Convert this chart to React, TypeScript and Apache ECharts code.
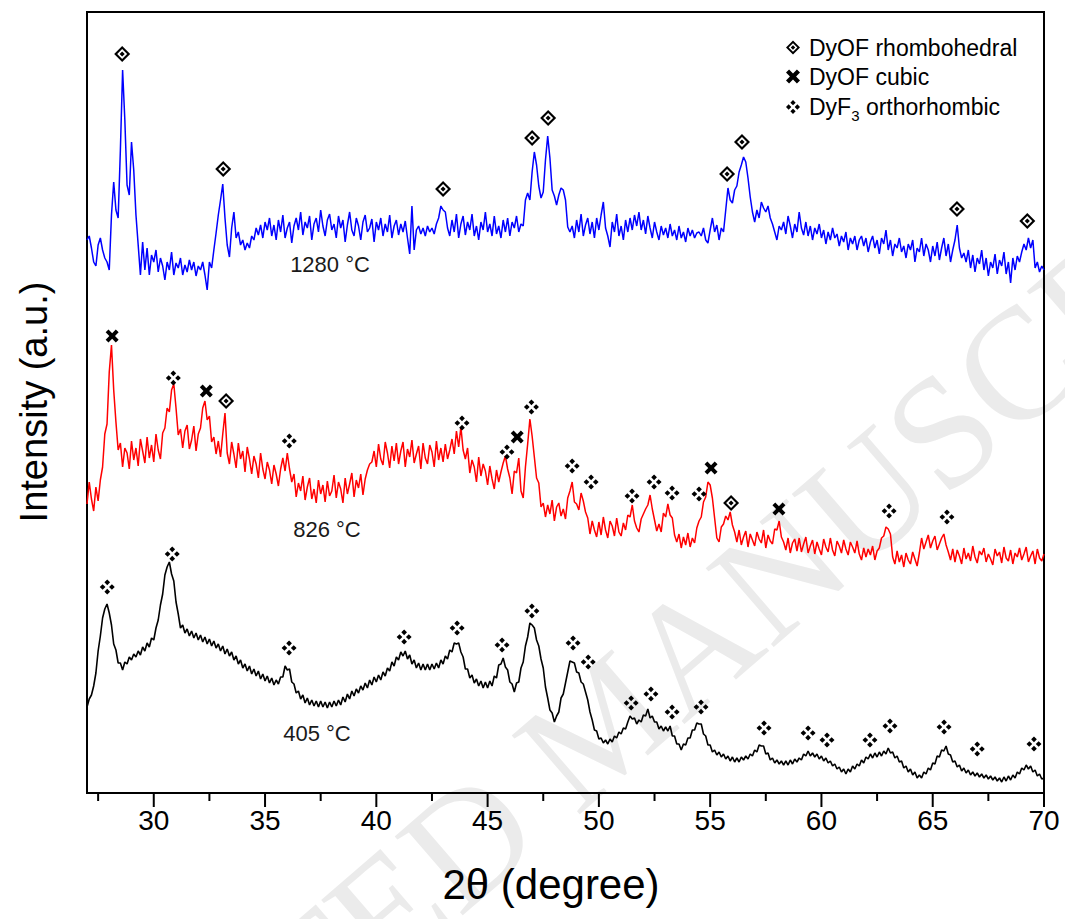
import React, { useEffect, useRef } from 'react';
import * as echarts from 'echarts';

// Diffractograms are sampled on a uniform 2θ grid.
const TWO_THETA_START = 27;
const TWO_THETA_STEP = 0.1;

// Intensity (a.u.) of the sample annealed at 1280 °C, 27.0° … 70.0°
const intensity1280 = [
  560, 564, 552, 538, 534, 555, 562, 550, 542, 538,
  530, 585, 618, 590, 582, 650, 730, 680, 615, 605,
  658, 630, 585, 555, 525, 558, 530, 552, 525, 545,
  538, 550, 528, 542, 534, 520, 538, 530, 548, 525,
  537, 532, 542, 525, 535, 528, 540, 530, 538, 524,
  534, 530, 538, 525, 510, 538, 532, 550, 567, 585,
  600, 616, 582, 555, 543, 572, 588, 562, 568, 555,
  560, 550, 557, 552, 564, 560, 572, 565, 575, 562,
  578, 570, 582, 564, 575, 560, 580, 568, 585, 562,
  572, 578, 557, 574, 582, 570, 588, 565, 578, 572,
  584, 560, 576, 582, 568, 590, 574, 564, 580, 586,
  570, 576, 562, 584, 572, 580, 558, 575, 588, 570,
  564, 582, 574, 560, 578, 585, 568, 572, 581, 558,
  578, 570, 582, 564, 576, 568, 585, 562, 574, 580,
  565, 576, 568, 579, 562, 546, 594, 550, 570, 574,
  566, 572, 564, 574, 568, 572, 566, 576, 582, 594,
  590, 588, 572, 564, 580, 568, 586, 562, 576, 584,
  565, 578, 570, 586, 564, 574, 560, 578, 570, 588,
  568, 576, 564, 584, 566, 574, 562, 580, 568, 582,
  564, 578, 572, 584, 568, 576, 574, 600, 607, 600,
  628, 648, 635, 614, 602, 608, 640, 664, 642, 610,
  604, 595, 605, 612, 610, 600, 573, 568, 574, 562,
  580, 568, 586, 564, 575, 582, 566, 578, 562, 582,
  570, 585, 598, 572, 564, 553, 578, 568, 586, 564,
  574, 560, 580, 568, 582, 570, 585, 574, 588, 570,
  580, 566, 584, 572, 562, 578, 568, 560, 574, 565,
  572, 562, 576, 564, 570, 560, 574, 562, 568, 558,
  572, 564, 570, 562, 567, 568, 564, 572, 560, 557,
  570, 582, 568, 575, 560, 572, 568, 590, 612, 600,
  597, 610, 614, 628, 635, 643, 638, 622, 603, 588,
  578, 590, 582, 598, 592, 588, 594, 582, 576, 568,
  560, 574, 570, 578, 566, 584, 574, 562, 576, 568,
  588, 572, 565, 578, 564, 574, 560, 572, 566, 576,
  562, 570, 556, 568, 560, 572, 562, 566, 554, 564,
  558, 568, 550, 562, 556, 564, 550, 560, 564, 554,
  562, 548, 558, 564, 552, 560, 546, 562, 556, 570,
  550, 560, 544, 556, 552, 562, 548, 554, 542, 556,
  550, 560, 538, 552, 548, 562, 544, 556, 550, 538,
  554, 544, 558, 540, 552, 562, 544, 556, 538, 550,
  560, 575, 552, 542, 547, 538, 550, 532, 545, 528,
  542, 536, 550, 530, 542, 524, 538, 532, 546, 526,
  540, 534, 548, 526, 538, 517, 542, 530, 544, 538,
  548, 556, 550, 562, 552, 560, 532, 538, 528, 534,
  530,
];

// Intensity (a.u.) of the sample annealed at 826 °C
const intensity826 = [
  296, 318, 301, 289, 313, 299, 320, 333, 366, 376,
  428, 455, 410, 378, 350, 357, 333, 352, 347, 331,
  359, 340, 352, 334, 361, 349, 337, 363, 342, 355,
  338, 366, 350, 341, 367, 372, 392, 388, 410, 416,
  392, 365, 371, 352, 369, 375, 351, 360, 374, 349,
  366, 372, 392, 399, 380, 384, 358, 363, 346, 359,
  343, 366, 387, 347, 336, 358, 346, 332, 357, 341,
  349, 328, 353, 341, 326, 344, 336, 322, 347, 331,
  321, 338, 330, 316, 335, 326, 314, 331, 342, 329,
  347, 331, 318, 326, 303, 317, 309, 324, 300, 313,
  322, 301, 311, 297, 320, 306, 315, 298, 319, 304,
  309, 325, 302, 318, 311, 297, 322, 306, 316, 327,
  303, 320, 312, 326, 305, 321, 330, 336, 338, 349,
  333, 356, 341, 335, 358, 347, 332, 354, 339, 357,
  336, 349, 358, 333, 351, 343, 360, 337, 346, 354,
  331, 357, 342, 336, 355, 348, 333, 359, 340, 352,
  338, 356, 341, 350, 361, 346, 369, 353, 373, 350,
  341, 352, 327, 340, 333, 318, 343, 324, 336, 329,
  315, 334, 321, 311, 330, 318, 328, 337, 344, 331,
  322, 306, 329, 327, 342, 309, 302, 333, 356, 381,
  364, 343, 322, 317, 293, 297, 283, 295, 286, 300,
  279, 293, 297, 284, 291, 281, 302, 309, 318, 298,
  296, 290, 307, 299, 288, 282, 266, 279, 270, 263,
  278, 265, 283, 270, 262, 279, 274, 264, 282, 268,
  264, 277, 270, 285, 283, 295, 279, 272, 268, 281,
  286, 291, 295, 305, 291, 280, 269, 276, 268, 287,
  283, 296, 285, 282, 265, 258, 266, 252, 263, 255,
  267, 253, 262, 257, 272, 279, 283, 298, 303, 318,
  315, 302, 282, 262, 258, 273, 276, 284, 280, 288,
  275, 268, 258, 270, 255, 263, 269, 253, 266, 260,
  254, 268, 261, 257, 270, 252, 265, 259, 256, 271,
  270, 279, 263, 258, 250, 262, 247, 257, 261, 249,
  262, 248, 256, 263, 247, 254, 260, 246, 258, 251,
  245, 261, 253, 248, 262, 250, 244, 259, 254, 247,
  260, 251, 245, 258, 253, 247, 259, 246, 240, 252,
  243, 251, 245, 254, 240, 249, 252, 262, 264, 273,
  271, 266, 243, 236, 249, 238, 245, 233, 247, 240,
  236, 248, 241, 234, 247, 262, 251, 258, 265, 252,
  259, 264, 250, 256, 262, 266, 255, 248, 240, 251,
  238, 250, 244, 236, 252, 241, 247, 239, 254, 243,
  237, 249, 245, 252, 238, 246, 241, 235, 251, 244,
  248, 237, 253, 242, 239, 250, 236, 247, 243, 252,
  240, 246, 253, 238, 244, 249, 236, 251, 242, 239,
  246,
];

// Intensity (a.u.) of the sample annealed at 405 °C
const intensity405 = [
  93, 101, 105, 114, 127, 149, 164, 182, 191, 196,
  187, 175, 156, 150, 137, 137, 130, 138, 136, 143,
  140, 146, 143, 149, 145, 153, 149, 157, 153, 162,
  160, 172, 180, 195, 206, 225, 233, 238, 226, 219,
  198, 186, 172, 175, 167, 171, 164, 169, 162, 167,
  160, 165, 158, 163, 156, 161, 154, 159, 152, 156,
  149, 154, 146, 151, 144, 148, 140, 144, 136, 140,
  132, 136, 129, 134, 126, 131, 124, 129, 121, 126,
  119, 124, 117, 122, 115, 120, 116, 123, 123, 134,
  130, 131, 118, 116, 107, 109, 101, 105, 97, 102,
  95, 100, 94, 99, 93, 99, 93, 98, 92, 98,
  93, 99, 94, 100, 95, 103, 98, 106, 101, 109,
  104, 111, 107, 114, 110, 117, 112, 120, 115, 123,
  118, 125, 120, 128, 124, 132, 129, 138, 134, 143,
  140, 148, 144, 149, 141, 145, 136, 140, 132, 137,
  130, 136, 130, 136, 130, 136, 131, 137, 132, 140,
  136, 144, 141, 150, 148, 157, 156, 157, 148, 143,
  131, 131, 122, 125, 117, 121, 114, 119, 112, 118,
  112, 119, 114, 124, 122, 135, 136, 142, 133, 130,
  118, 116, 108, 117, 118, 132, 138, 154, 163, 177,
  175, 172, 160, 154, 141, 132, 113, 102, 90, 87,
  78, 84, 88, 102, 106, 117, 128, 139, 138, 137,
  128, 127, 118, 116, 108, 100, 88, 80, 70, 69,
  61, 62, 57, 60, 56, 61, 58, 64, 62, 68,
  66, 72, 71, 78, 84, 81, 82, 76, 80, 78,
  85, 84, 91, 82, 84, 78, 78, 71, 74, 69,
  73, 69, 74, 64, 64, 56, 56, 50, 56, 55,
  62, 62, 70, 70, 77, 76, 76, 66, 64, 55,
  55, 48, 50, 45, 48, 43, 46, 41, 44, 39,
  43, 38, 42, 38, 43, 40, 44, 41, 46, 44,
  50, 48, 55, 54, 54, 46, 47, 40, 42, 37,
  40, 36, 39, 35, 39, 35, 40, 36, 41, 38,
  42, 40, 46, 44, 49, 44, 47, 43, 46, 41,
  44, 39, 42, 37, 39, 34, 36, 31, 33, 28,
  31, 26, 31, 28, 34, 31, 36, 34, 40, 37,
  43, 41, 46, 42, 47, 43, 48, 44, 49, 46,
  52, 47, 48, 42, 44, 38, 39, 32, 34, 28,
  31, 25, 28, 22, 25, 22, 28, 26, 32, 30,
  37, 36, 44, 43, 50, 49, 54, 46, 45, 38,
  39, 33, 35, 29, 32, 27, 30, 25, 28, 24,
  27, 23, 26, 22, 25, 21, 24, 20, 23, 19,
  22, 18, 23, 19, 24, 20, 25, 22, 28, 26,
  32, 30, 35, 31, 34, 28, 30, 24, 26, 21,
  22,
];

// Indexed reflections: [2θ, marker height in a.u.]
const rhombohedralPeaks = [
  [28.58, 746], [33.12, 631], [43.0, 611], [47.0, 662], [47.72, 682],
  [55.76, 626], [56.43, 658], [66.09, 591], [69.25, 579],
  [33.25, 399], [55.94, 297],
];
const cubicPeaks = [
  [28.13, 464], [32.36, 409], [46.33, 363], [55.04, 332], [58.09, 291],
];
const orthorhombicPeaks = [
  [30.88, 422], [36.09, 359], [43.85, 377], [45.87, 348], [46.97, 393],
  [48.8, 334], [49.65, 318], [51.49, 304], [52.48, 318], [53.29, 307],
  [54.5, 306], [63.04, 289], [65.64, 283],
  [27.91, 213], [30.83, 246], [36.08, 152], [41.25, 163], [43.63, 172],
  [45.65, 155], [46.99, 189], [48.84, 157], [49.52, 138], [51.45, 97],
  [52.34, 106], [53.29, 88], [54.59, 93], [57.42, 72], [59.4, 67],
  [60.25, 60], [62.18, 60], [63.08, 74], [65.51, 73], [67.0, 51],
  [69.55, 56],
];

const sampleLabels = ['1280 °C', '826 °C', '405 °C'];
const phaseNames = ['DyOF rhombohedral', 'DyOF cubic', 'DyF3 orthorhombic'];

const X_MIN = 27;
const X_MAX = 70;
const Y_MIN = 7;
const Y_MAX = 788;
const majorTicks = [30, 35, 40, 45, 50, 55, 60, 65, 70];
const minorTicks = [27.5, 32.5, 37.5, 42.5, 47.5, 52.5, 57.5, 62.5, 67.5];

const SYMBOL_RHOMB =
  'path://M50 0L100 50L50 100L0 50Z M50 19L19 50L50 81L81 50Z M50 34L66 50L50 66L34 50Z';
const SYMBOL_CROSS =
  'path://M22 0L50 28L78 0L100 22L72 50L100 78L78 100L50 72L22 100L0 78L28 50L0 22Z';
const SYMBOL_QUAD =
  'path://M50 0L69 19L50 38L31 19Z M19 31L38 50L19 69L0 50Z M81 31L100 50L81 69L62 50Z M50 62L69 81L50 100L31 81Z';

const FONT = '"Liberation Sans", Arial, sans-serif';

const toPoints = (values: number[]) =>
  values.map((v, i) => [Number((TWO_THETA_START + i * TWO_THETA_STEP).toFixed(2)), v]);

function buildOption(): echarts.EChartsOption {
  const traceLine = (name: string, values: number[], color: string, width: number) => ({
    type: 'line' as const,
    name,
    data: toPoints(values),
    showSymbol: false,
    symbol: 'none',
    silent: true,
    lineStyle: { color, width },
    itemStyle: { color },
    z: 3,
  });

  const markerSeries = (name: string, data: number[][], symbol: string, size: number) => ({
    type: 'scatter' as const,
    name,
    data,
    symbol,
    symbolSize: size,
    itemStyle: { color: '#000', opacity: 1 },
    silent: true,
    z: 6,
  });

  return {
    animation: false,
    backgroundColor: '#fff',
    grid: {
      left: 87,
      right: 21,
      top: 12,
      bottom: 126,
      show: true,
      borderColor: '#000',
      borderWidth: 2,
      backgroundColor: 'transparent',
    },
    xAxis: {
      type: 'value',
      min: X_MIN,
      max: X_MAX,
      minInterval: 5,
      maxInterval: 5,
      axisLine: { show: true, lineStyle: { color: '#000', width: 2 } },
      axisTick: { show: false },
      splitLine: { show: false },
      axisLabel: {
        color: '#000',
        fontSize: 28,
        fontFamily: FONT,
        margin: 13,
        formatter: (v: number) => (majorTicks.includes(v) ? String(v) : ''),
      },
    },
    yAxis: {
      type: 'value',
      min: Y_MIN,
      max: Y_MAX,
      axisLine: { show: false },
      axisTick: { show: false },
      axisLabel: { show: false },
      splitLine: { show: false },
    },
    legend: {
      orient: 'vertical',
      left: 786,
      top: 33,
      padding: 0,
      itemGap: 0,
      itemWidth: 14,
      itemHeight: 14,
      selectedMode: false,
      data: [
        { name: phaseNames[0], icon: SYMBOL_RHOMB, itemStyle: { color: '#000', opacity: 1 } },
        { name: phaseNames[1], icon: SYMBOL_CROSS, itemStyle: { color: '#000', opacity: 1 } },
        { name: phaseNames[2], icon: SYMBOL_QUAD, itemStyle: { color: '#000', opacity: 1 } },
      ],
      formatter: (name: string) =>
        name === phaseNames[2] ? '{m|DyF}{s|3}{m| orthorhombic}' : `{m|${name}}`,
      textStyle: {
        color: '#000',
        fontFamily: FONT,
        fontSize: 23,
        lineHeight: 29,
        padding: [0, 0, 0, 4],
        rich: {
          m: { fontSize: 23, fontFamily: FONT, color: '#000', lineHeight: 29 },
          s: { fontSize: 15, fontFamily: FONT, color: '#000', lineHeight: 12, padding: [17, 0, 0, 0] },
        },
      },
    },
    graphic: [
      {
        type: 'text',
        z: -5,
        silent: true,
        x: 603,
        y: 723,
        rotation: 0.712,
        style: {
          text: 'ACCEPTED MANUSCRIPT',
          fontSize: 159,
          fontFamily: '"Liberation Serif", "Times New Roman", serif',
          fill: '#ebebeb',
          align: 'center',
          verticalAlign: 'middle',
        },
      },
      {
        type: 'text',
        z: 20,
        x: 330,
        y: 264,
        style: { text: sampleLabels[0], fontSize: 22, fontFamily: FONT, fill: '#1a1a1a', align: 'center', verticalAlign: 'middle' },
      },
      {
        type: 'text',
        z: 20,
        x: 327,
        y: 529,
        style: { text: sampleLabels[1], fontSize: 22, fontFamily: FONT, fill: '#1a1a1a', align: 'center', verticalAlign: 'middle' },
      },
      {
        type: 'text',
        z: 20,
        x: 317,
        y: 733,
        style: { text: sampleLabels[2], fontSize: 22, fontFamily: FONT, fill: '#1a1a1a', align: 'center', verticalAlign: 'middle' },
      },
      {
        type: 'text',
        z: 20,
        x: 551,
        y: 884,
        style: { text: '2θ (degree)', fontSize: 42, fontFamily: FONT, fill: '#000', align: 'center', verticalAlign: 'middle' },
      },
      {
        type: 'text',
        z: 20,
        x: 34,
        y: 402,
        rotation: Math.PI / 2,
        style: { text: 'Intensity (a.u.)', fontSize: 38, fontFamily: FONT, fill: '#000', align: 'center', verticalAlign: 'middle' },
      },
    ],
    series: [
      traceLine('405 °C', intensity405, '#000000', 1.6),
      traceLine('826 °C', intensity826, '#ff0000', 1.5),
      traceLine('1280 °C', intensity1280, '#0000ff', 1.5),
      markerSeries(phaseNames[0], rhombohedralPeaks, SYMBOL_RHOMB, 16),
      markerSeries(phaseNames[1], cubicPeaks, SYMBOL_CROSS, 13),
      markerSeries(phaseNames[2], orthorhombicPeaks, SYMBOL_QUAD, 15),
      {
        type: 'custom',
        name: 'axis ticks',
        silent: true,
        clip: false,
        z: 10,
        data: [...majorTicks.map((v) => [v, 1]), ...minorTicks.map((v) => [v, 0])],
        renderItem: (_params: any, api: any) => {
          const p = api.coord([api.value(0), Y_MIN]);
          const len = api.value(1) === 1 ? 14 : 8;
          return {
            type: 'line',
            shape: { x1: p[0], y1: p[1], x2: p[0], y2: p[1] + len },
            style: { stroke: '#000', lineWidth: 2 },
          };
        },
      } as any,
    ],
  };
}

export default function App() {
  const ref = useRef<HTMLDivElement>(null);

  useEffect(() => {
    if (!ref.current) return;
    const chart = echarts.init(ref.current, undefined, { renderer: 'svg' });
    chart.setOption(buildOption());
    return () => chart.dispose();
  }, []);

  return (
    <div
      ref={ref}
      style={{ position: 'fixed', left: 0, top: 0, width: 1065, height: 919, background: '#fff' }}
    />
  );
}
